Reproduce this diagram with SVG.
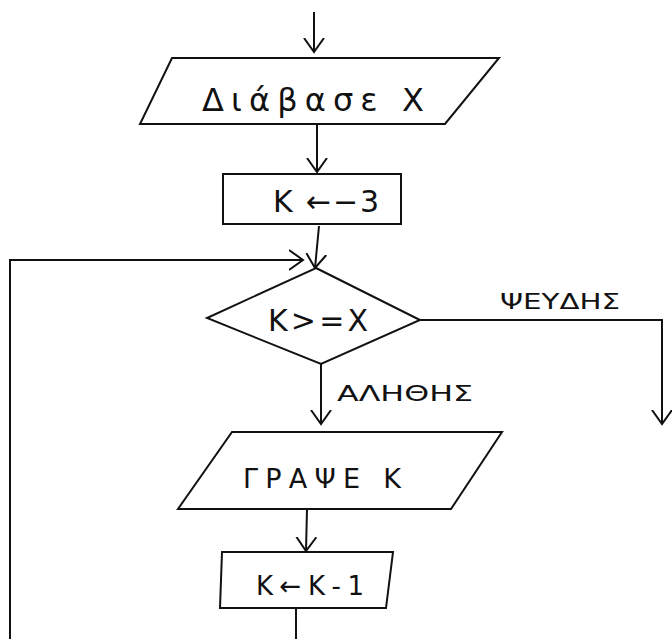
<svg xmlns="http://www.w3.org/2000/svg" width="672" height="639" viewBox="0 0 672 639">
<style>
.s{fill:#fff;stroke:#111;stroke-width:2;stroke-linejoin:miter}
.c{fill:none;stroke:#111;stroke-width:2}
.t{font-family:"DejaVu Sans","Liberation Sans",sans-serif;fill:#111;text-anchor:middle;dominant-baseline:central}
</style>
<defs>
<marker id="a" markerUnits="userSpaceOnUse" markerWidth="24" markerHeight="24" refX="14" refY="10" orient="auto" viewBox="0 0 24 20">
<path d="M0,0 L14,10 L0,20" fill="none" stroke="#111" stroke-width="2"/>
</marker>
</defs>
<g id="connectors">
<line class="c" x1="314" y1="12" x2="314" y2="52" marker-end="url(#a)"/>
<line class="c" x1="317" y1="124" x2="317" y2="172" marker-end="url(#a)"/>
<line class="c" x1="319" y1="226" x2="315" y2="268" marker-end="url(#a)"/>
<polyline class="c" points="10,639 10,260 303,260" marker-end="url(#a)"/>
<polyline class="c" points="420,320 662,320 662,424" marker-end="url(#a)"/>
<line class="c" x1="321" y1="364" x2="321" y2="424" marker-end="url(#a)"/>
<line class="c" x1="307" y1="509" x2="306" y2="551" marker-end="url(#a)"/>
<line class="c" x1="296" y1="609" x2="296" y2="639"/>
<text class="t" x="560" y="302" font-size="21" textLength="120" lengthAdjust="spacingAndGlyphs">ΨΕΥΔΗΣ</text>
<text class="t" x="405" y="394" font-size="21" textLength="136" lengthAdjust="spacingAndGlyphs">ΑΛΗΘΗΣ</text>
</g>
<g id="read">
<polygon class="s" points="172,58 499,58 445,124 140,124"/>
<text class="t" x="313" y="100" font-size="32" textLength="222" lengthAdjust="spacing">Διάβασε Χ</text>
</g>
<g id="init">
<rect class="s" x="223" y="174" width="178" height="50"/>
<text class="t" x="326" y="201" font-size="30" textLength="106" lengthAdjust="spacing">Κ ←−3</text>
</g>
<g id="cond">
<polygon class="s" points="316,268 420,320 321,364 207,318"/>
<text class="t" x="318" y="320" font-size="30" textLength="100" lengthAdjust="spacing">Κ&gt;=Χ</text>
</g>
<g id="write">
<polygon class="s" points="232,432 502,432 451,509 178,509"/>
<text class="t" x="322" y="478" font-size="27" textLength="158" lengthAdjust="spacing">ΓΡΑΨΕ Κ</text>
</g>
<g id="dec">
<polygon class="s" points="222,552 393,552 386,608 220,608"/>
<text class="t" x="310" y="586" font-size="26" textLength="108" lengthAdjust="spacing">Κ←Κ-1</text>
</g>
</svg>
